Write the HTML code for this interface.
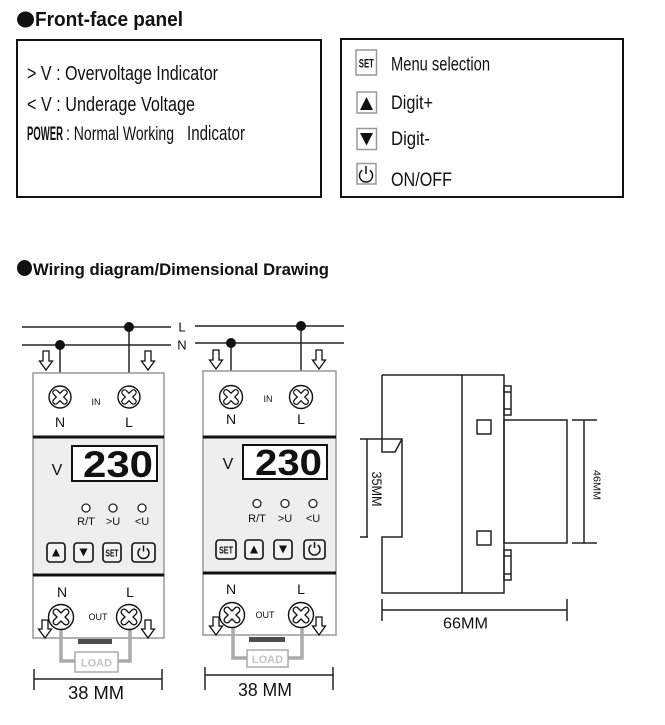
<!DOCTYPE html>
<html><head><meta charset="utf-8"><style>
html,body{margin:0;padding:0;background:#fff;}
svg{display:block;}
text{font-family:"Liberation Sans",Arial,sans-serif;fill:#111;}
</style></head><body>
<svg width="665" height="725" viewBox="0 0 665 725" xmlns="http://www.w3.org/2000/svg">
<rect width="665" height="725" fill="#fff"/>

<!-- Heading 1 -->
<ellipse cx="25.5" cy="19.5" rx="8.5" ry="8" fill="#111"/>
<text x="35" y="26" font-size="20.5" font-weight="bold" textLength="148" lengthAdjust="spacingAndGlyphs">Front-face panel</text>

<!-- Left panel -->
<rect x="17" y="40" width="304" height="157" fill="none" stroke="#111" stroke-width="2"/>
<text x="27" y="80" font-size="20" textLength="191" lengthAdjust="spacingAndGlyphs">&gt; V : Overvoltage Indicator</text>
<text x="27" y="111" font-size="20" textLength="168" lengthAdjust="spacingAndGlyphs">&lt; V : Underage Voltage</text>
<text x="27" y="140" font-size="19" font-weight="bold" textLength="36" lengthAdjust="spacingAndGlyphs">POWER</text>
<text x="66" y="140" font-size="19" textLength="108" lengthAdjust="spacingAndGlyphs">: Normal Working</text>
<text x="187" y="140" font-size="20" textLength="58" lengthAdjust="spacingAndGlyphs">Indicator</text>

<!-- Right panel -->
<rect x="341" y="39" width="282" height="158" fill="none" stroke="#111" stroke-width="2"/>
<rect x="356" y="50" width="20.5" height="25" fill="#fff" stroke="#999" stroke-width="1.5"/>
<text x="366.3" y="67.5" font-size="12" font-weight="bold" text-anchor="middle" textLength="15" lengthAdjust="spacingAndGlyphs">SET</text>
<rect x="357" y="92" width="19.5" height="21" fill="#fff" stroke="#999" stroke-width="1.5"/>
<polygon points="360,110 373,110 366.5,97" fill="#111"/>
<rect x="357" y="128.5" width="19.5" height="21" fill="#fff" stroke="#999" stroke-width="1.5"/>
<polygon points="360,133 373,133 366.5,145.5" fill="#111"/>
<rect x="357" y="163.5" width="19" height="20.5" fill="#fff" stroke="#999" stroke-width="1.5"/>
<path d="M369.73 170.2A6.5 6.5 0 1 1 362.27 170.2M366 166V174" fill="none" stroke="#111" stroke-width="1.5"/>
<text x="391" y="70.5" font-size="19" textLength="99" lengthAdjust="spacingAndGlyphs">Menu selection</text>
<text x="391" y="109" font-size="19" textLength="42" lengthAdjust="spacingAndGlyphs">Digit+</text>
<text x="391" y="145" font-size="19" textLength="39" lengthAdjust="spacingAndGlyphs">Digit-</text>
<text x="391" y="186" font-size="19" textLength="61" lengthAdjust="spacingAndGlyphs">ON/OFF</text>

<!-- Heading 2 -->
<ellipse cx="24.5" cy="268" rx="7.5" ry="8" fill="#111"/>
<text x="33" y="275" font-size="17" font-weight="bold" textLength="296" lengthAdjust="spacingAndGlyphs">Wiring diagram/Dimensional Drawing</text>

<!-- ================= LEFT DEVICE ================= -->
<g stroke="#222" stroke-width="1.5">
<line x1="22" y1="327" x2="171" y2="327"/>
<line x1="22" y1="345" x2="171" y2="345"/>
<line x1="129" y1="327" x2="129" y2="386"/>
<line x1="60" y1="345" x2="60" y2="386"/>
</g>
<text x="182" y="331.5" font-size="13" text-anchor="middle">L</text>
<text x="182" y="349.5" font-size="13" text-anchor="middle">N</text>
<circle cx="129" cy="327" r="5" fill="#111"/>
<circle cx="60" cy="345" r="5" fill="#111"/>
<g transform="translate(46,351)"><path d="M-3 0H3V10H6.5L0 19L-6.5 10H-3Z" fill="#fff" stroke="#111" stroke-width="1.3"/></g>
<g transform="translate(148,351)"><path d="M-3 0H3V10H6.5L0 19L-6.5 10H-3Z" fill="#fff" stroke="#111" stroke-width="1.3"/></g>

<rect x="33" y="373" width="131" height="64" fill="#fff" stroke="#999" stroke-width="1.5"/>
<rect x="33" y="437" width="131" height="138" fill="#eeeeee" stroke="#999" stroke-width="1.5"/>
<rect x="33" y="575" width="131" height="63" fill="#fff" stroke="#999" stroke-width="1.5"/>
<line x1="33" y1="437" x2="164" y2="437" stroke="#111" stroke-width="3"/>
<line x1="33" y1="575" x2="164" y2="575" stroke="#111" stroke-width="3"/>

<g transform="translate(60,397)"><circle r="11" fill="#fff" stroke="#111" stroke-width="1.4"/><path d="M-4.5-4.5L4.5 4.5M4.5-4.5L-4.5 4.5" stroke="#111" stroke-width="6.5" stroke-linecap="round"/><path d="M-4.5-4.5L4.5 4.5M4.5-4.5L-4.5 4.5" stroke="#fff" stroke-width="4" stroke-linecap="round"/></g>
<g transform="translate(129,397)"><circle r="11" fill="#fff" stroke="#111" stroke-width="1.4"/><path d="M-4.5-4.5L4.5 4.5M4.5-4.5L-4.5 4.5" stroke="#111" stroke-width="6.5" stroke-linecap="round"/><path d="M-4.5-4.5L4.5 4.5M4.5-4.5L-4.5 4.5" stroke="#fff" stroke-width="4" stroke-linecap="round"/></g>
<text x="96" y="405" font-size="9" text-anchor="middle">IN</text>
<text x="60" y="427" font-size="14" text-anchor="middle">N</text>
<text x="129" y="427" font-size="14" text-anchor="middle">L</text>

<text x="57" y="475" font-size="16" text-anchor="middle">V</text>
<rect x="72" y="446" width="85" height="35" fill="#fff" stroke="#111" stroke-width="2"/>
<text x="83" y="477" font-size="37" font-weight="bold" textLength="70" lengthAdjust="spacingAndGlyphs">230</text>

<g fill="#fff" stroke="#222" stroke-width="1.3">
<circle cx="86" cy="508" r="4"/><circle cx="113" cy="508" r="4"/><circle cx="142" cy="508" r="4"/>
</g>
<text x="86" y="525" font-size="11" text-anchor="middle">R/T</text>
<text x="113" y="525" font-size="11" text-anchor="middle">&gt;U</text>
<text x="142" y="525" font-size="11" text-anchor="middle">&lt;U</text>

<g fill="#f2f2f2" stroke="#111" stroke-width="1.6">
<rect x="47" y="543" width="18" height="19" rx="3"/>
<rect x="74" y="543" width="19" height="19" rx="3"/>
<rect x="103" y="543" width="18" height="19" rx="3"/>
<rect x="132" y="543" width="23" height="19" rx="3"/>
</g>
<polygon points="52,556.5 60,556.5 56,548.5" fill="#111"/>
<polygon points="79.5,548.5 87.5,548.5 83.5,556.5" fill="#111"/>
<text x="112" y="556.5" font-size="10" font-weight="bold" text-anchor="middle" textLength="13" lengthAdjust="spacingAndGlyphs">SET</text>
<path d="M146.65 548.5A5.5 5.5 0 1 1 140.35 548.5M143.5 545.5V551.5" fill="none" stroke="#111" stroke-width="1.5"/>

<text x="62" y="597" font-size="14" text-anchor="middle">N</text>
<text x="130" y="597" font-size="14" text-anchor="middle">L</text>
<path d="M61 629V661H75M130 629V661H118" fill="none" stroke="#aaa" stroke-width="3.5"/>
<g transform="translate(45,620)"><path d="M-3 0H3V9H6.5L0 18L-6.5 9H-3Z" fill="#fff" stroke="#111" stroke-width="1.3"/></g>
<g transform="translate(148,620)"><path d="M-3 0H3V9H6.5L0 18L-6.5 9H-3Z" fill="#fff" stroke="#111" stroke-width="1.3"/></g>
<g transform="translate(61,617)"><circle r="12.5" fill="#fff" stroke="#111" stroke-width="1.4"/><path d="M-5-5L5 5M5-5L-5 5" stroke="#111" stroke-width="7" stroke-linecap="round"/><path d="M-5-5L5 5M5-5L-5 5" stroke="#fff" stroke-width="4.4" stroke-linecap="round"/></g>
<g transform="translate(129,617)"><circle r="12.5" fill="#fff" stroke="#111" stroke-width="1.4"/><path d="M-5-5L5 5M5-5L-5 5" stroke="#111" stroke-width="7" stroke-linecap="round"/><path d="M-5-5L5 5M5-5L-5 5" stroke="#fff" stroke-width="4.4" stroke-linecap="round"/></g>
<text x="98" y="620" font-size="9" text-anchor="middle">OUT</text>
<rect x="78" y="639" width="34" height="5" fill="#4d4d4d"/>
<rect x="75" y="652" width="43" height="20" fill="#fff" stroke="#aaa" stroke-width="1.5"/>
<text x="96.5" y="666.5" font-size="11" font-weight="bold" text-anchor="middle" style="fill:#c4c4c4">LOAD</text>

<g stroke="#222" stroke-width="1.5">
<line x1="34" y1="679" x2="162" y2="679"/>
<line x1="34" y1="669" x2="34" y2="690"/>
<line x1="162" y1="669" x2="162" y2="690"/>
</g>
<text x="96" y="699" font-size="18" text-anchor="middle" textLength="56" lengthAdjust="spacingAndGlyphs">38 MM</text>

<!-- ================= RIGHT DEVICE ================= -->
<g stroke="#222" stroke-width="1.5">
<line x1="195" y1="326" x2="344" y2="326"/>
<line x1="195" y1="343" x2="344" y2="343"/>
<line x1="301" y1="326" x2="301" y2="386"/>
<line x1="231" y1="343" x2="231" y2="386"/>
</g>
<circle cx="301" cy="326" r="5" fill="#111"/>
<circle cx="231" cy="343" r="5" fill="#111"/>
<g transform="translate(216,350)"><path d="M-3 0H3V10H6.5L0 19L-6.5 10H-3Z" fill="#fff" stroke="#111" stroke-width="1.3"/></g>
<g transform="translate(319,350)"><path d="M-3 0H3V10H6.5L0 19L-6.5 10H-3Z" fill="#fff" stroke="#111" stroke-width="1.3"/></g>

<rect x="203" y="371" width="133" height="66" fill="#fff" stroke="#999" stroke-width="1.5"/>
<rect x="203" y="437" width="133" height="136" fill="#eeeeee" stroke="#999" stroke-width="1.5"/>
<rect x="203" y="573" width="133" height="62" fill="#fff" stroke="#999" stroke-width="1.5"/>
<line x1="203" y1="437" x2="336" y2="437" stroke="#111" stroke-width="3"/>
<line x1="203" y1="573" x2="336" y2="573" stroke="#111" stroke-width="3"/>

<g transform="translate(231,397)"><circle r="11.5" fill="#fff" stroke="#111" stroke-width="1.4"/><path d="M-4.7-4.7L4.7 4.7M4.7-4.7L-4.7 4.7" stroke="#111" stroke-width="6.5" stroke-linecap="round"/><path d="M-4.7-4.7L4.7 4.7M4.7-4.7L-4.7 4.7" stroke="#fff" stroke-width="4" stroke-linecap="round"/></g>
<g transform="translate(301,397)"><circle r="11.5" fill="#fff" stroke="#111" stroke-width="1.4"/><path d="M-4.7-4.7L4.7 4.7M4.7-4.7L-4.7 4.7" stroke="#111" stroke-width="6.5" stroke-linecap="round"/><path d="M-4.7-4.7L4.7 4.7M4.7-4.7L-4.7 4.7" stroke="#fff" stroke-width="4" stroke-linecap="round"/></g>
<text x="268" y="402" font-size="9" text-anchor="middle">IN</text>
<text x="231" y="424" font-size="14" text-anchor="middle">N</text>
<text x="301" y="424" font-size="14" text-anchor="middle">L</text>

<text x="228" y="469" font-size="16" text-anchor="middle">V</text>
<rect x="243" y="445" width="84" height="34" fill="#fff" stroke="#111" stroke-width="2"/>
<text x="255" y="475" font-size="36" font-weight="bold" textLength="67" lengthAdjust="spacingAndGlyphs">230</text>

<g fill="#fff" stroke="#222" stroke-width="1.3">
<circle cx="257" cy="503.5" r="4"/><circle cx="285" cy="503.5" r="4"/><circle cx="313" cy="503.5" r="4"/>
</g>
<text x="257" y="522" font-size="11" text-anchor="middle">R/T</text>
<text x="285" y="522" font-size="11" text-anchor="middle">&gt;U</text>
<text x="313" y="522" font-size="11" text-anchor="middle">&lt;U</text>

<g fill="#f2f2f2" stroke="#111" stroke-width="1.6">
<rect x="216" y="540" width="20" height="19" rx="3"/>
<rect x="245" y="540" width="18" height="19" rx="3"/>
<rect x="274" y="540" width="18" height="19" rx="3"/>
<rect x="304" y="540" width="21" height="19" rx="3"/>
</g>
<text x="226" y="553.5" font-size="10" font-weight="bold" text-anchor="middle" textLength="14" lengthAdjust="spacingAndGlyphs">SET</text>
<polygon points="250,553.5 258,553.5 254,545.5" fill="#111"/>
<polygon points="279,545.5 287,545.5 283,553.5" fill="#111"/>
<path d="M317.65 545A5.5 5.5 0 1 1 311.35 545M314.5 542V548" fill="none" stroke="#111" stroke-width="1.5"/>

<text x="231" y="594" font-size="14" text-anchor="middle">N</text>
<text x="301" y="594" font-size="14" text-anchor="middle">L</text>
<path d="M233 627V658H247M302 627V658H288" fill="none" stroke="#aaa" stroke-width="3.5"/>
<g transform="translate(216,617)"><path d="M-3 0H3V9H6.5L0 18L-6.5 9H-3Z" fill="#fff" stroke="#111" stroke-width="1.3"/></g>
<g transform="translate(319,617)"><path d="M-3 0H3V9H6.5L0 18L-6.5 9H-3Z" fill="#fff" stroke="#111" stroke-width="1.3"/></g>
<g transform="translate(232,615)"><circle r="12.5" fill="#fff" stroke="#111" stroke-width="1.4"/><path d="M-5-5L5 5M5-5L-5 5" stroke="#111" stroke-width="7" stroke-linecap="round"/><path d="M-5-5L5 5M5-5L-5 5" stroke="#fff" stroke-width="4.4" stroke-linecap="round"/></g>
<g transform="translate(301,615)"><circle r="12.5" fill="#fff" stroke="#111" stroke-width="1.4"/><path d="M-5-5L5 5M5-5L-5 5" stroke="#111" stroke-width="7" stroke-linecap="round"/><path d="M-5-5L5 5M5-5L-5 5" stroke="#fff" stroke-width="4.4" stroke-linecap="round"/></g>
<text x="265" y="618" font-size="9" text-anchor="middle">OUT</text>
<rect x="249" y="637" width="36" height="5" fill="#4d4d4d"/>
<rect x="247" y="650" width="41" height="17" fill="#fff" stroke="#aaa" stroke-width="1.5"/>
<text x="267.5" y="663" font-size="11" font-weight="bold" text-anchor="middle" style="fill:#c4c4c4">LOAD</text>

<g stroke="#222" stroke-width="1.5">
<line x1="205" y1="675" x2="333" y2="675"/>
<line x1="205" y1="667" x2="205" y2="690"/>
<line x1="333" y1="667" x2="333" y2="690"/>
</g>
<text x="265" y="696" font-size="18" text-anchor="middle" textLength="54" lengthAdjust="spacingAndGlyphs">38 MM</text>

<!-- ================= SIDE VIEW ================= -->
<g fill="none" stroke="#222" stroke-width="1.5">
<path d="M382 375H504V593H382V537H402V439H360"/>
<path d="M382 375V452H395L402 439"/>
<path d="M360 537H368"/>
<path d="M367 439V537"/>
<path d="M462 375V593"/>
<rect x="477" y="420" width="14" height="14"/>
<rect x="477" y="531" width="14" height="14"/>
<rect x="504" y="420" width="63" height="123"/>
<rect x="504" y="386" width="7" height="29"/>
<path d="M504 392H511M504 409H511"/>
<rect x="504" y="550" width="7" height="30"/>
<path d="M504 556H511M504 574H511"/>
<path d="M584 420V543M572 420H597M572 543H597"/>
<path d="M382 610H567M382 599V621M567 599V621"/>
</g>
<text transform="translate(377,489) rotate(90)" font-size="14" text-anchor="middle" dy="5" textLength="35" lengthAdjust="spacingAndGlyphs">35MM</text>
<text transform="translate(597,485) rotate(90)" font-size="10" text-anchor="middle" dy="3.5" textLength="30" lengthAdjust="spacingAndGlyphs">46MM</text>
<text x="465.5" y="628.5" font-size="16" text-anchor="middle" textLength="45" lengthAdjust="spacingAndGlyphs">66MM</text>

</svg>
</body></html>
